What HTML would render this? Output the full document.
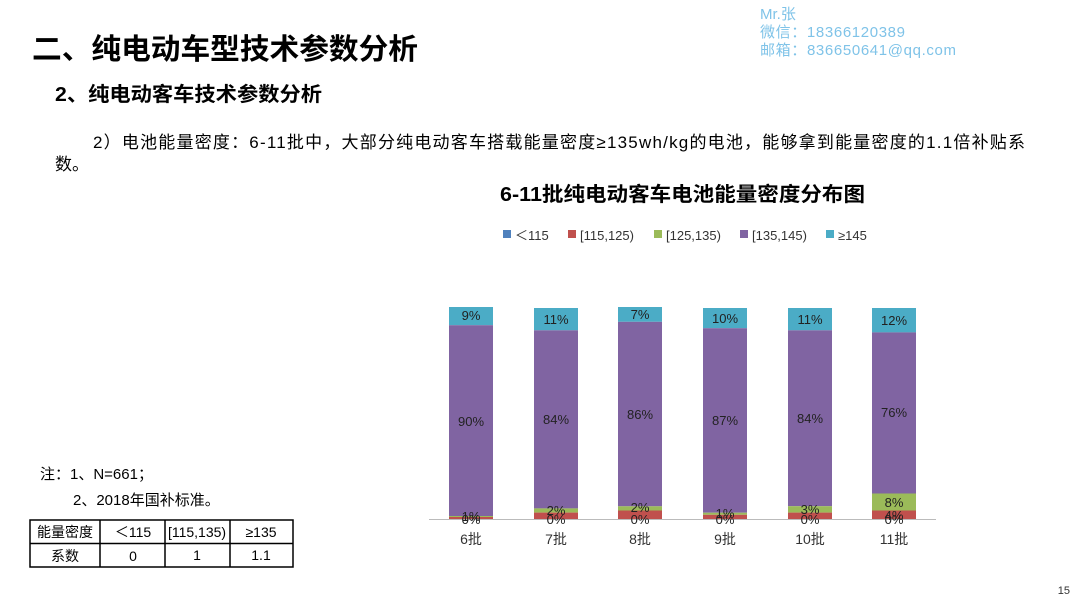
<!DOCTYPE html>
<html><head><meta charset="utf-8"><style>
body{margin:0;width:1080px;height:601px;background:#fff;overflow:hidden;font-family:"Liberation Sans","Noto Sans CJK SC",sans-serif;}
</style></head><body>
<svg width="1080" height="601" xmlns="http://www.w3.org/2000/svg" font-family="Liberation Sans, Noto Sans CJK SC, sans-serif">
<text x="32" y="59" font-size="29" font-weight="bold" fill="#000" textLength="386" lengthAdjust="spacingAndGlyphs">二、纯电动车型技术参数分析</text>
<text x="760" y="19" font-size="15" fill="#7fc3e8">Mr.张</text>
<text x="760" y="37" font-size="15" fill="#7fc3e8" textLength="145">微信：18366120389</text>
<text x="760" y="55" font-size="15" fill="#7fc3e8" textLength="196">邮箱：836650641@qq.com</text>
<text x="55" y="101" font-size="20" font-weight="bold" fill="#000" textLength="267" lengthAdjust="spacingAndGlyphs">2、纯电动客车技术参数分析</text>
<text x="93" y="148" font-size="17" fill="#000" textLength="932">2）电池能量密度：6-11批中，大部分纯电动客车搭载能量密度≥135wh/kg的电池，能够拿到能量密度的1.1倍补贴系</text>
<text x="55" y="170" font-size="17" fill="#000">数。</text>
<text x="500" y="201" font-size="20" font-weight="bold" fill="#000" textLength="365" lengthAdjust="spacingAndGlyphs">6-11批纯电动客车电池能量密度分布图</text>
<g font-size="13" fill="#333">
<rect x="503" y="230" width="8" height="8" fill="#4f81bd"/><text x="515" y="240">＜115</text>
<rect x="568" y="230" width="8" height="8" fill="#c0504d"/><text x="580" y="240">[115,125)</text>
<rect x="654" y="230" width="8" height="8" fill="#9bbb59"/><text x="666" y="240">[125,135)</text>
<rect x="740" y="230" width="8" height="8" fill="#8064a2"/><text x="752" y="240">[135,145)</text>
<rect x="826" y="230" width="8" height="8" fill="#4bacc6"/><text x="838" y="240">≥145</text>
</g>
<g>
<rect x="449" y="307" width="44" height="18.2" fill="#4bacc6"/><rect x="449" y="325.2" width="44" height="190.8" fill="#8064a2"/><rect x="449" y="516" width="44" height="1" fill="#9bbb59"/><rect x="449" y="517" width="44" height="2" fill="#c0504d"/>
<rect x="534" y="308" width="44" height="22.3" fill="#4bacc6"/><rect x="534" y="330.3" width="44" height="178.1" fill="#8064a2"/><rect x="534" y="508.4" width="44" height="4.2" fill="#9bbb59"/><rect x="534" y="512.6" width="44" height="6.4" fill="#c0504d"/>
<rect x="618" y="307" width="44" height="14.8" fill="#4bacc6"/><rect x="618" y="321.8" width="44" height="184.5" fill="#8064a2"/><rect x="618" y="506.3" width="44" height="4.2" fill="#9bbb59"/><rect x="618" y="510.5" width="44" height="8.5" fill="#c0504d"/>
<rect x="703" y="308" width="44" height="20.2" fill="#4bacc6"/><rect x="703" y="328.2" width="44" height="184.5" fill="#8064a2"/><rect x="703" y="512.7" width="44" height="2.1" fill="#9bbb59"/><rect x="703" y="514.8" width="44" height="4.2" fill="#c0504d"/>
<rect x="788" y="308" width="44" height="22.3" fill="#4bacc6"/><rect x="788" y="330.3" width="44" height="175.9" fill="#8064a2"/><rect x="788" y="506.2" width="44" height="6.4" fill="#9bbb59"/><rect x="788" y="512.6" width="44" height="6.4" fill="#c0504d"/>
<rect x="872" y="308" width="44" height="24.4" fill="#4bacc6"/><rect x="872" y="332.4" width="44" height="161.1" fill="#8064a2"/><rect x="872" y="493.5" width="44" height="17" fill="#9bbb59"/><rect x="872" y="510.5" width="44" height="8.5" fill="#c0504d"/>
</g>
<line x1="429" y1="519.5" x2="936" y2="519.5" stroke="#bbb" stroke-width="1"/>
<g font-size="13" fill="#222" text-anchor="middle">
<text x="471" y="320">9%</text><text x="556" y="324">11%</text><text x="640" y="319">7%</text><text x="725" y="323">10%</text><text x="810" y="324">11%</text><text x="894" y="325">12%</text>
<text x="471" y="426">90%</text><text x="556" y="424">84%</text><text x="640" y="419">86%</text><text x="725" y="425">87%</text><text x="810" y="423">84%</text><text x="894" y="417">76%</text>
<text x="894" y="507">8%</text>
<text x="471" y="521">1%</text><text x="556" y="515">2%</text><text x="640" y="512">2%</text><text x="725" y="518">1%</text><text x="810" y="514">3%</text><text x="894" y="520">4%</text>
<text x="471" y="524">0%</text><text x="556" y="524">0%</text><text x="640" y="524">0%</text><text x="725" y="524">0%</text><text x="810" y="524">0%</text><text x="894" y="524">0%</text>
</g>
<g font-size="14" fill="#333" text-anchor="middle">
<text x="471" y="544">6批</text><text x="556" y="544">7批</text><text x="640" y="544">8批</text><text x="725" y="544">9批</text><text x="810" y="544">10批</text><text x="894" y="544">11批</text>
</g>
<text x="40" y="479" font-size="15" fill="#000">注：1、N=661；</text>
<text x="73" y="505" font-size="15" fill="#000">2、2018年国补标准。</text>
<g stroke="#000" stroke-width="1.5" fill="none">
<rect x="30" y="520" width="263" height="47"/>
<line x1="30" y1="543.5" x2="293" y2="543.5"/>
<line x1="100" y1="520" x2="100" y2="567"/><line x1="165" y1="520" x2="165" y2="567"/><line x1="230" y1="520" x2="230" y2="567"/>
</g>
<g font-size="14" fill="#000" text-anchor="middle">
<text x="65" y="537">能量密度</text><text x="133" y="537">＜115</text><text x="197" y="537">[115,135)</text><text x="261" y="537">≥135</text>
<text x="65" y="561">系数</text><text x="133" y="561">0</text><text x="197" y="560">1</text><text x="261" y="560">1.1</text>
</g>
<text x="1070" y="594" font-size="11" fill="#333" text-anchor="end">15</text>
</svg>
</body></html>
